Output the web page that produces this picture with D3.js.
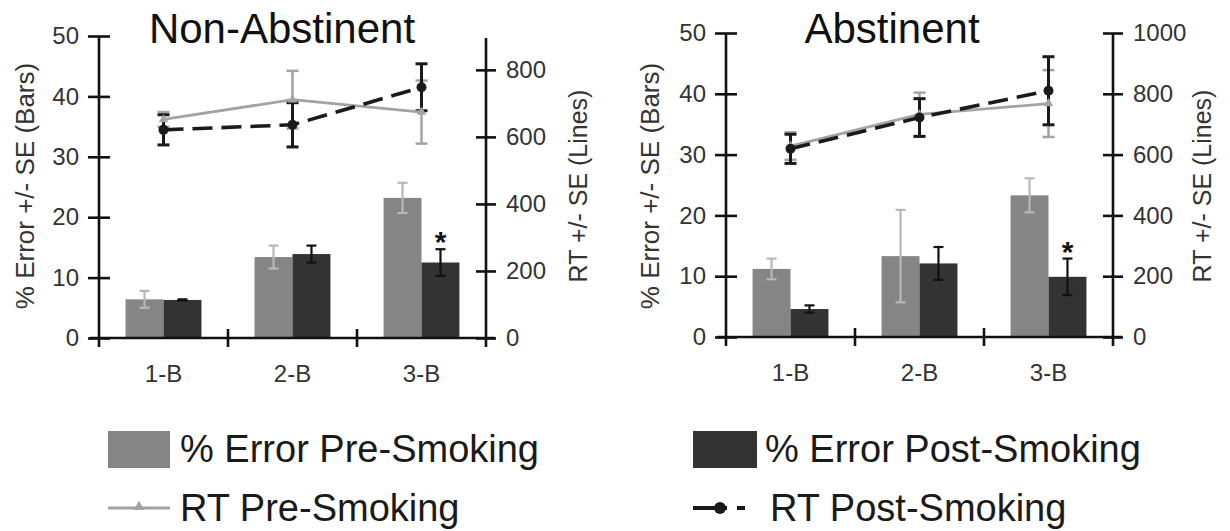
<!DOCTYPE html>
<html>
<head>
<meta charset="utf-8">
<script src="https://cdn.jsdelivr.net/npm/d3@7"></script>
<style>
  body { margin: 0; background: #fff; }
  svg { display: block; font-family: "Liberation Sans", Arial, sans-serif; }
</style>
</head>
<body>
<script>
// n-back load categories
const categories = ["1-B", "2-B", "3-B"];

// tick labels
const errTicks = [0, 10, 20, 30, 40, 50];
const rtTicksNonAbs = [0, 200, 400, 600, 800];
const rtTicksAbs = [0, 200, 400, 600, 800, 1000];

// Non-Abstinent: % error (bars) and RT (lines), with SE
const nonAbsErrPre = [6.4, 13.4, 23.2];
const nonAbsErrPreSE = [1.4, 1.9, 2.5];
const nonAbsErrPost = [6.3, 13.9, 12.5];
const nonAbsErrPostSE = [0.1, 1.4, 2.2];
const nonAbsRtPre = [652, 711, 674];
const nonAbsRtPreSE = [22, 86, 94];
const nonAbsRtPost = [621, 636, 748];
const nonAbsRtPostSE = [45, 66, 70];

// Abstinent
const absErrPre = [11.2, 13.3, 23.3];
const absErrPreSE = [1.7, 7.6, 2.8];
const absErrPost = [4.6, 12.1, 9.9];
const absErrPostSE = [0.6, 2.7, 3.0];
const absRtPre = [628, 732, 768];
const absRtPreSE = [45, 72, 110];
const absRtPost = [619, 722, 810];
const absRtPostSE = [48, 62, 112];

const legendItems = ["% Error Pre-Smoking", "% Error Post-Smoking", "RT Pre-Smoking", "RT Post-Smoking"];

const C = {
  barPre: "#858585", barPost: "#333333",
  barPreErr: "#b8b8b8", barPostErr: "#111",
  linePre: "#a3a3a3", linePost: "#1a1a1a"
};

const svg = d3.select("body").append("svg")
    .attr("width", 1230)
    .attr("height", 531);

const panels = [
  {title: "Non-Abstinent", titleX: 282, x0: 99, x1: 486, top: 36, base: 338, rtMax: 895, rtTop: 38,
   rtTicks: rtTicksNonAbs, leftLabelX: 25, rightLabelX: 578,
   errPre: nonAbsErrPre, errPreSE: nonAbsErrPreSE, errPost: nonAbsErrPost, errPostSE: nonAbsErrPostSE,
   rtPre: nonAbsRtPre, rtPreSE: nonAbsRtPreSE, rtPost: nonAbsRtPost, rtPostSE: nonAbsRtPostSE},
  {title: "Abstinent", titleX: 892, x0: 726, x1: 1113, top: 33, base: 337, rtMax: 1000, rtTop: 33,
   rtTicks: rtTicksAbs, leftLabelX: 650, rightLabelX: 1202,
   errPre: absErrPre, errPreSE: absErrPreSE, errPost: absErrPost, errPostSE: absErrPostSE,
   rtPre: absRtPre, rtPreSE: absRtPreSE, rtPost: absRtPost, rtPostSE: absRtPostSE}
];

function errBar(g, x, y0, y1, cap, color, width) {
  g.append("line").attr("x1", x).attr("x2", x).attr("y1", y0).attr("y2", y1)
      .attr("stroke", color).attr("stroke-width", width);
  [y0, y1].forEach(yy => g.append("line")
      .attr("x1", x - cap / 2).attr("x2", x + cap / 2).attr("y1", yy).attr("y2", yy)
      .attr("stroke", color).attr("stroke-width", width));
}

panels.forEach(p => {
  const g = svg.append("g");

  const x = d3.scaleBand().domain(categories).range([p.x0, p.x1]);
  const xi = d3.scaleBand().domain(["pre", "post"]).range([0, x.bandwidth()]).paddingOuter(0.7);
  const y = d3.scaleLinear().domain([0, 50]).range([p.base, p.top]);
  const yr = d3.scaleLinear().domain([0, p.rtMax]).range([p.base, p.rtTop]);

  // bars
  const bars = categories.map((c, i) => [
    {c, k: "pre", v: p.errPre[i], se: p.errPreSE[i]},
    {c, k: "post", v: p.errPost[i], se: p.errPostSE[i]}
  ]).flat();

  g.append("g").selectAll("rect")
    .data(bars)
    .join("rect")
      .attr("x", d => x(d.c) + xi(d.k))
      .attr("y", d => y(d.v))
      .attr("width", xi.bandwidth())
      .attr("height", d => y(0) - y(d.v))
      .attr("fill", d => d.k === "pre" ? C.barPre : C.barPost);

  const be = g.append("g");
  bars.forEach(d => {
    const bx = x(d.c) + xi(d.k) + xi.bandwidth() / 2;
    errBar(be, bx, y(d.v - d.se), y(d.v + d.se), 10,
      d.k === "pre" ? C.barPreErr : C.barPostErr, 2.2);
  });

  // significance star over 3-B post
  const last = categories.length - 1;
  g.append("text")
      .attr("x", x(categories[last]) + xi("post") + xi.bandwidth() / 2)
      .attr("y", y(p.errPost[last] + p.errPostSE[last]) + 3)
      .attr("text-anchor", "middle")
      .attr("font-size", 30)
      .attr("font-weight", "bold")
      .attr("fill", "#111")
      .text("*");

  // RT lines
  const cx = c => x(c) + x.bandwidth() / 2;
  const le = g.append("g");
  categories.forEach((c, i) => {
    errBar(le, cx(c), yr(p.rtPre[i] - p.rtPreSE[i]), yr(p.rtPre[i] + p.rtPreSE[i]), 12, C.linePre, 2.5);
  });
  categories.forEach((c, i) => {
    errBar(le, cx(c), yr(p.rtPost[i] - p.rtPostSE[i]), yr(p.rtPost[i] + p.rtPostSE[i]), 12, C.linePost, 3);
  });

  const line = d3.line().x(d => cx(d.c)).y(d => yr(d.v));
  const pre = categories.map((c, i) => ({c, v: p.rtPre[i]}));
  const post = categories.map((c, i) => ({c, v: p.rtPost[i]}));

  g.append("path").datum(pre)
      .attr("d", line).attr("fill", "none")
      .attr("stroke", C.linePre).attr("stroke-width", 2.8);
  g.append("path").datum(post)
      .attr("d", line).attr("fill", "none")
      .attr("stroke", C.linePost).attr("stroke-width", 3.6)
      .attr("stroke-dasharray", "20,9");

  g.append("g").selectAll("path")
    .data(pre)
    .join("path")
      .attr("transform", d => `translate(${cx(d.c)},${yr(d.v)})`)
      .attr("d", d3.symbol(d3.symbolTriangle, 40))
      .attr("fill", C.linePre);
  g.append("g").selectAll("circle")
    .data(post)
    .join("circle")
      .attr("cx", d => cx(d.c)).attr("cy", d => yr(d.v))
      .attr("r", 5).attr("fill", C.linePost);

  // axes
  const axisCol = "#111";
  g.append("line").attr("x1", p.x0).attr("x2", p.x0).attr("y1", p.top).attr("y2", p.base + 9)
      .attr("stroke", axisCol).attr("stroke-width", 2.6);
  g.append("line").attr("x1", p.x1).attr("x2", p.x1).attr("y1", p.rtTop).attr("y2", p.base + 9)
      .attr("stroke", axisCol).attr("stroke-width", 2.6);
  g.append("line").attr("x1", p.x0 - 9).attr("x2", p.x1 + 9).attr("y1", p.base).attr("y2", p.base)
      .attr("stroke", axisCol).attr("stroke-width", 2.6);

  g.append("g")
      .attr("transform", `translate(${p.x0},0)`)
      .call(d3.axisLeft(y).tickValues(errTicks).tickSize(11).tickPadding(9))
      .call(a => a.attr("font-family", null).attr("font-size", 24))
      .call(a => a.select(".domain").remove())
      .call(a => a.selectAll(".tick line").attr("x2", 11).attr("x1", -11)
          .attr("stroke", axisCol).attr("stroke-width", 2.6))
      .call(a => a.selectAll(".tick text").attr("fill", "#333"));

  g.append("g")
      .attr("transform", `translate(${p.x1},0)`)
      .call(d3.axisRight(yr).tickValues(p.rtTicks).tickFormat(d3.format("d")).tickSize(10).tickPadding(10))
      .call(a => a.attr("font-family", null).attr("font-size", 24))
      .call(a => a.select(".domain").remove())
      .call(a => a.selectAll(".tick line").attr("x1", -10).attr("x2", 10)
          .attr("stroke", axisCol).attr("stroke-width", 2.6))
      .call(a => a.selectAll(".tick text").attr("fill", "#333"));

  g.append("g")
      .attr("transform", `translate(0,${p.base})`)
      .call(d3.axisBottom(x).tickSize(0).tickPadding(27))
      .call(a => a.attr("font-family", null).attr("font-size", 24))
      .call(a => a.select(".domain").remove())
      .call(a => a.selectAll(".tick text").attr("fill", "#333"));

  // category dividers
  g.append("g").selectAll("line")
    .data(categories.slice(1))
    .join("line")
      .attr("x1", d => x(d)).attr("x2", d => x(d))
      .attr("y1", p.base - 9).attr("y2", p.base + 9)
      .attr("stroke", axisCol).attr("stroke-width", 2.6);

  // titles and axis labels
  g.append("text")
      .attr("x", p.titleX).attr("y", 43)
      .attr("text-anchor", "middle")
      .attr("font-size", 42)
      .attr("fill", "#111")
      .text(p.title);

  g.append("text")
      .attr("transform", `translate(${p.leftLabelX},186) rotate(-90)`)
      .attr("text-anchor", "middle").attr("dy", "0.35em")
      .attr("font-size", 26).attr("fill", "#333")
      .text("% Error +/- SE (Bars)");

  g.append("text")
      .attr("transform", `translate(${p.rightLabelX},186) rotate(-90)`)
      .attr("text-anchor", "middle").attr("dy", "0.35em")
      .attr("font-size", 25).attr("fill", "#333")
      .text("RT +/- SE (Lines)");
});

// legend
const lg = svg.append("g").attr("font-size", 38).attr("fill", "#1a1a1a");
const legendPos = [[108, 462], [693, 462], [108, 521], [693, 521]];

lg.append("rect").attr("x", 108).attr("y", 431).attr("width", 62).attr("height", 37).attr("fill", C.barPre);
lg.append("rect").attr("x", 693).attr("y", 431).attr("width", 64).attr("height", 37).attr("fill", C.barPost);

lg.append("line").attr("x1", 108).attr("x2", 170).attr("y1", 508).attr("y2", 508)
    .attr("stroke", C.linePre).attr("stroke-width", 3);
lg.append("path").attr("transform", "translate(139,507)")
    .attr("d", d3.symbol(d3.symbolTriangle, 50)).attr("fill", C.linePre);

lg.append("line").attr("x1", 693).attr("x2", 750).attr("y1", 508).attr("y2", 508)
    .attr("stroke", C.linePost).attr("stroke-width", 4).attr("stroke-dasharray", "34,10,8");
lg.append("circle").attr("cx", 720).attr("cy", 508).attr("r", 6).attr("fill", C.linePost);

lg.selectAll("text.lab")
  .data(legendItems)
  .join("text")
    .attr("class", "lab")
    .attr("x", (d, i) => legendPos[i][0] + (i === 3 ? 77 : 72))
    .attr("y", (d, i) => legendPos[i][1])
    .text(d => d);
</script>
</body>
</html>
